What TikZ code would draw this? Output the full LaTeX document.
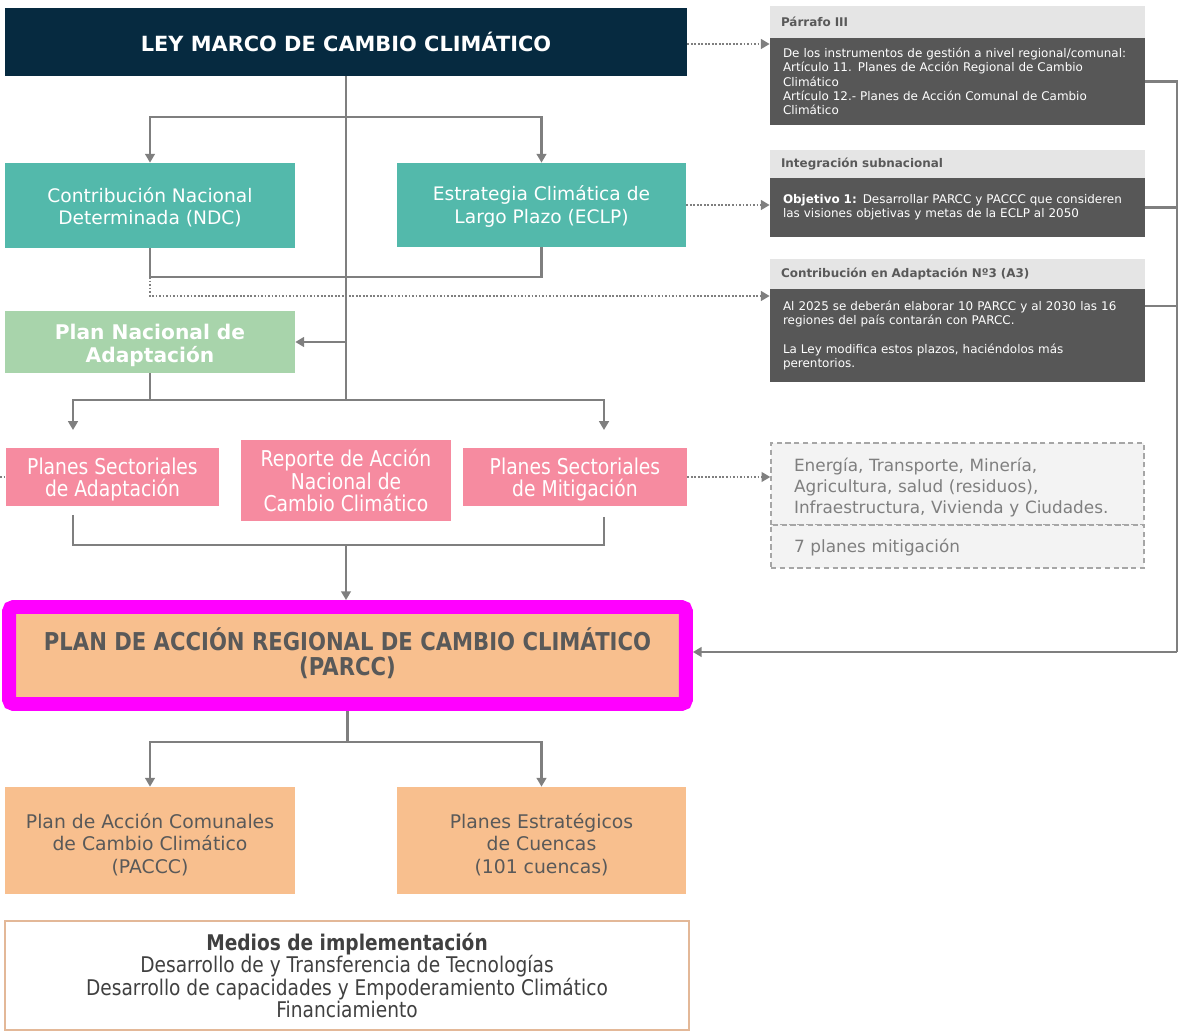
\documentclass[tikz,border=0pt]{standalone}
\usepackage{fontspec}
\setmainfont{DejaVu Sans}
\newfontfamily\condf[FakeStretch=0.86]{DejaVu Sans}
\usetikzlibrary{arrows.meta}
\definecolor{navy}{HTML}{062A40}
\definecolor{teal}{HTML}{53B9AB}
\definecolor{sage}{HTML}{A8D4AB}
\definecolor{pinkb}{HTML}{F68BA0}
\definecolor{peach}{HTML}{F8BF8E}
\definecolor{magb}{HTML}{FF00FF}
\definecolor{darkb}{HTML}{575757}
\definecolor{headb}{HTML}{E5E5E5}
\definecolor{secfill}{HTML}{F3F3F3}
\definecolor{secline}{HTML}{A6A6A6}
\definecolor{cgray}{HTML}{7F7F7F}
\definecolor{tgray}{HTML}{595959}
\definecolor{medline}{HTML}{E3B898}
\begin{document}
\begin{tikzpicture}[x=0.02cm,y=-0.02cm,
  box/.style={rectangle, inner sep=0pt, align=center, text=white},
  headbox/.style={rectangle, fill=headb, inner xsep=0.22cm, inner ysep=0pt, text width=7.06cm, align=left, text=tgray, minimum width=7.5cm, font=\fontsize{6.8}{8.2}\selectfont\bfseries},
  bodybox/.style={rectangle, fill=darkb, inner xsep=0.26cm, inner ysep=0pt, text width=6.98cm, align=left, text=white, minimum width=7.5cm, font=\fontsize{6.8}{8.2}\selectfont},
  secbox/.style={rectangle, fill=secfill, draw=secline, line width=0.8pt, dash pattern=on 3pt off 2pt, inner xsep=0.46cm, inner ysep=0pt, text width=6.54cm, align=left, text=cgray, minimum width=7.46cm, font=\fontsize{9.6}{11.9}\selectfont},
  conn/.style={draw=cgray, line width=1.4pt},
  arr/.style={conn, -{Triangle[length=5pt,width=5.5pt]}},
  dotline/.style={draw=cgray, line width=1.2pt, dash pattern=on 1pt off 1pt},
  dotarr/.style={dotline, -{Triangle[length=5pt,width=5.5pt]}},
]
\useasboundingbox (0,0) rectangle (1181,1033);

% main column
\node[box, fill=navy, minimum width=13.64cm, minimum height=1.36cm, font=\fontsize{11.9}{14}\selectfont\bfseries] (law) at (346,42) {LEY MARCO DE CAMBIO CLIMÁTICO};
\node[box, fill=teal, minimum width=5.8cm, minimum height=1.7cm, font=\fontsize{10.6}{13}\selectfont] (ndc) at (150,205.5) {\rule{0pt}{10.5pt}Contribución Nacional\\Determinada (NDC)};
\node[box, fill=teal, minimum width=5.78cm, minimum height=1.68cm, font=\fontsize{10.6}{13}\selectfont] (eclp) at (541.5,205) {\rule{0pt}{10.5pt}Estrategia Climática de\\Largo Plazo (ECLP)};
\node[box, fill=sage, minimum width=5.8cm, minimum height=1.24cm, font=\fontsize{11.5}{13.6}\selectfont\bfseries] (pna) at (150,342) {\rule{0pt}{12.7pt}Plan Nacional de\\Adaptación};
\node[box, fill=pinkb, minimum width=4.26cm, minimum height=1.16cm, font=\fontsize{12.4}{12.5}\condf] (psa) at (112.5,477) {\rule{0pt}{12.8pt}Planes Sectoriales\\de Adaptación};
\node[box, fill=pinkb, minimum width=4.2cm, minimum height=1.62cm, font=\fontsize{12.4}{12.8}\condf] (rep) at (346,480.5) {Reporte de Acción\\Nacional de\\Cambio Climático};
\node[box, fill=pinkb, minimum width=4.48cm, minimum height=1.16cm, font=\fontsize{12.4}{12.5}\condf] (psm) at (575,477) {\rule{0pt}{12.8pt}Planes Sectoriales\\de Mitigación};
\node[box, fill=peach, draw=magb, line width=7.9pt, rounded corners=2.5pt, minimum width=13.54cm, minimum height=1.94cm, text=tgray, font=\fontsize{14}{14.5}\condf\bfseries] (parcc) at (347.5,655.5) {PLAN DE ACCIÓN REGIONAL DE CAMBIO CLIMÁTICO\\(PARCC)\rule[-4.5pt]{0pt}{1pt}};
\node[box, fill=peach, minimum width=5.8cm, minimum height=2.14cm, text=tgray, font=\fontsize{10.7}{12.9}\selectfont] (pac) at (150,840.5) {\rule{0pt}{13.2pt}Plan de Acción Comunales\\de Cambio Climático\\(PACCC)};
\node[box, fill=peach, minimum width=5.78cm, minimum height=2.14cm, text=tgray, font=\fontsize{10.7}{12.9}\selectfont] (pec) at (541.5,840.5) {\rule{0pt}{13.2pt}Planes Estratégicos\\de Cuencas\\(101 cuencas)};
\node[box, fill=white, draw=medline, line width=1pt, minimum width=13.68cm, minimum height=2.18cm, text=black!75, font=\fontsize{12.3}{12.8}\condf] (med) at (347,975.5) {\textbf{Medios de implementación}\\Desarrollo de y Transferencia de Tecnologías\\Desarrollo de capacidades y Empoderamiento Climático\\Financiamiento};

% right boxes
\node[headbox, minimum height=0.64cm] (p3h) at (957.5,22) {Párrafo III};
\node[bodybox, minimum height=1.74cm] (p3b) at (957.5,81.5) {De los instrumentos de gestión a nivel regional/comunal:\\Artículo 11. Planes de Acción Regional de Cambio\\Climático\\Artículo 12.- Planes de Acción Comunal de Cambio\\Climático};
\node[headbox, minimum height=0.56cm] (ish) at (957.5,164) {Integración subnacional};
\node[bodybox, minimum height=1.18cm] (isb) at (957.5,207.5) {\textbf{Objetivo 1:} Desarrollar PARCC y PACCC que consideren\\las visiones objetivas y metas de la ECLP al 2050};
\node[headbox, minimum height=0.6cm] (cah) at (957.5,274) {Contribución en Adaptación Nº3 (A3)};
\node[bodybox, minimum height=1.86cm] (cab) at (957.5,335.5) {Al 2025 se deberán elaborar 10 PARCC y al 2030 las 16\\regiones del país contarán con PARCC.\\[8.2pt]La Ley modifica estos plazos, haciéndolos más\\perentorios.};
\node[secbox, minimum height=1.64cm] (secA) at (957.5,484) {\rule{0pt}{11.8pt}Energía, Transporte, Minería,\\Agricultura, salud (residuos),\\\mbox{Infraestructura, Vivienda y Ciudades.}};
\node[secbox, minimum height=0.86cm] (secB) at (957.5,546.5) {\rule{0pt}{9pt}7 planes mitigación};

% coordinates
\coordinate (t1) at (346,117);
\coordinate (t2) at (346,342);
\coordinate (t3) at (346,400);
\coordinate (k1) at (150,277);
\coordinate (a1) at (73,430);
\coordinate (a2) at (604,430);
\coordinate (b1) at (73,515);
\coordinate (b2) at (604,517);
\coordinate (b3) at (346,545);
\coordinate (ls) at (0,477);
\coordinate (rtop) at (1177,81.5);
\coordinate (rbot) at (1177,652);
\coordinate (c1) at (parcc.south |- 0,742);

% connectors
\draw[conn] (law.south -| t1) -- (t3);
\draw[arr] (t1) -| (ndc.north);
\draw[arr] (t1) -| (eclp.north);
\draw[conn] (ndc.south) -- (k1) -| (eclp.south);
\draw[dotarr] (k1) |- (cab.west |- 0,296);
\draw[arr] (t2) -- (pna.east);
\draw[conn] (pna.south) -- (pna.south |- t3);
\draw[arr] (t3) -| (a1);
\draw[arr] (t3) -| (a2);
\draw[conn] (b1) |- (b3);
\draw[conn] (b2) |- (b3);
\draw[arr] (b3) -- (b3 |- parcc.north);
\draw[dotline] (ls) -- (psa.west);
\draw[dotarr] (psm.east) -- (psm.east -| secA.west);
\draw[dotarr] (law.east |- 0,44) -- (p3b.west |- 0,44);
\draw[dotarr] (eclp.east) -- (eclp.east -| isb.west);
\draw[conn] (p3b.east) -- (rtop) -- (rbot);
\draw[conn] (isb.east) -- (isb.east -| rtop);
\draw[conn] (cab.east |- 0,306) -- (rtop |- 0,306);
\draw[arr] (rbot) -- (parcc.east |- rbot);
\draw[conn] (parcc.south) -- (c1);
\draw[arr] (c1) -| (pac.north);
\draw[arr] (c1) -| (pec.north);
\end{tikzpicture}
\end{document}
